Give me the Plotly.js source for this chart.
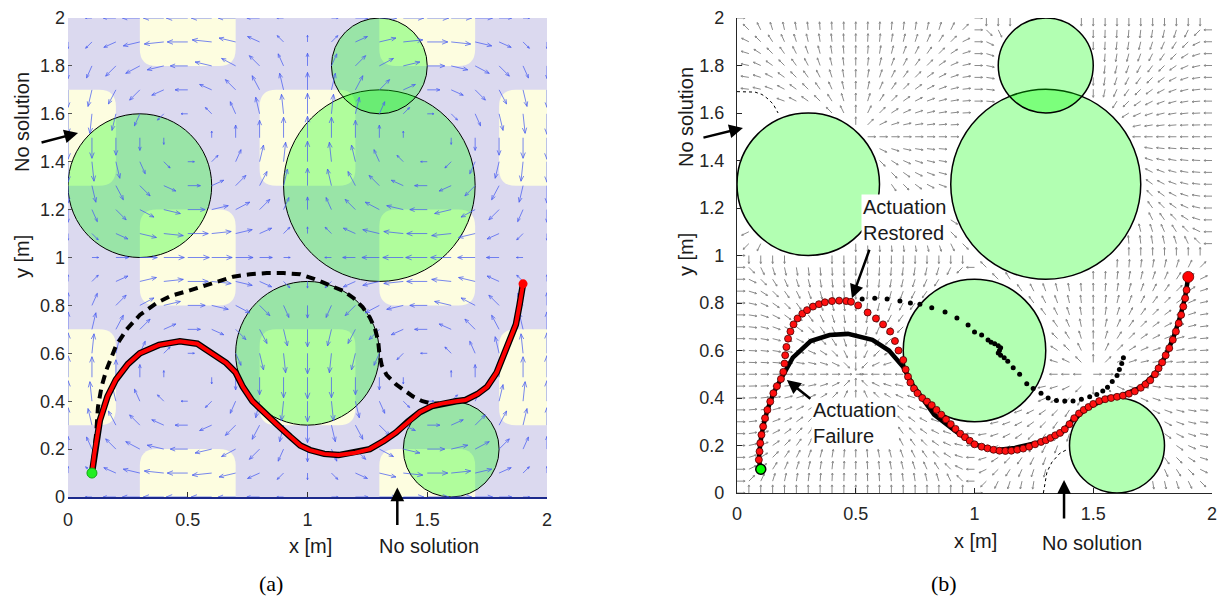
<!DOCTYPE html>
<html><head><meta charset="utf-8">
<script src="https://cdn.plot.ly/plotly-3.0.1.min.js"></script>
<style>html,body{margin:0;padding:0;background:#fff}#chart{width:1225px;height:602px}</style>
</head><body><div id="chart"></div>
<script>
// ---------- data ----------
const tickValsX = [0, 0.5, 1, 1.5, 2];
const tickTextX = ['0', '0.5', '1', '1.5', '2'];
const tickValsY = [0, 0.2, 0.4, 0.6, 0.8, 1, 1.2, 1.4, 1.6, 1.8, 2];
const tickTextY = ['0', '0.2', '0.4', '0.6', '0.8', '1', '1.2', '1.4', '1.6', '1.8', '2'];

// circular obstacles (same in both panels)
const obstacleX = [0.3, 1.3, 1.3, 1.0, 1.6];
const obstacleY = [1.3, 1.3, 1.8, 0.6, 0.2];
const obstacleR = [0.3, 0.4, 0.2, 0.3, 0.2];

// fast-flow (pale yellow) patch centres in panel (a)
const patchX = [0, 0, 1, 1, 2, 2, 0.5, 0.5, 0.5, 1.5, 1.5, 1.5];
const patchY = [0.5, 1.5, 0.5, 1.5, 0.5, 1.5, 0, 1, 2, 0, 1, 2];

// panel (a): planned trajectory (red, black edged)
const aPathX = [0.10,0.11,0.133,0.165,0.20,0.25,0.30,0.38,0.467,0.54,0.60,0.66,0.70,0.73,0.77,0.82,0.87,0.93,0.97,1.01,1.07,1.13,1.20,1.26,1.32,1.37,1.42,1.47,1.52,1.56,1.62,1.66,1.71,1.75,1.79,1.81,1.84,1.87,1.885,1.90];
const aPathY = [0.10,0.18,0.32,0.42,0.49,0.555,0.60,0.635,0.65,0.64,0.60,0.56,0.52,0.46,0.40,0.35,0.305,0.25,0.215,0.196,0.18,0.175,0.185,0.20,0.235,0.27,0.315,0.355,0.38,0.39,0.40,0.405,0.43,0.46,0.52,0.57,0.64,0.72,0.80,0.89];
// panel (a): dashed trajectory
const aDashX = [0.10,0.105,0.11,0.118,0.125,0.14,0.16,0.175,0.20,0.245,0.30,0.37,0.43,0.50,0.56,0.62,0.69,0.76,0.83,0.90,0.97,1.03,1.103,1.15,1.193,1.23,1.26,1.282,1.295,1.30,1.31,1.33,1.37,1.40,1.44,1.48,1.52,1.55];
const aDashY = [0.10,0.14,0.18,0.27,0.375,0.46,0.53,0.57,0.63,0.70,0.76,0.81,0.84,0.86,0.88,0.90,0.92,0.93,0.935,0.935,0.93,0.91,0.882,0.86,0.83,0.793,0.75,0.703,0.652,0.60,0.55,0.51,0.47,0.45,0.42,0.40,0.39,0.39];

// panel (b): nominal trajectory (solid black)
const bLineX = [0.10,0.092,0.098,0.11,0.128,0.153,0.185,0.235,0.31,0.39,0.467,0.57,0.64,0.70,0.74,0.78,0.83,0.92,1.0,1.086,1.17,1.28,1.37,1.42,1.48,1.56,1.62,1.70,1.76,1.80,1.836,1.865,1.886,1.90];
const bLineY = [0.10,0.14,0.21,0.28,0.35,0.42,0.48,0.57,0.64,0.665,0.67,0.645,0.60,0.53,0.455,0.40,0.33,0.26,0.205,0.18,0.19,0.215,0.257,0.315,0.36,0.40,0.41,0.445,0.50,0.57,0.65,0.74,0.82,0.91];
// panel (b): executed path with actuation failure (red dots)
const bDotX = [0.092,0.095,0.098,0.103,0.11,0.118,0.128,0.14,0.153,0.168,0.185,
  0.195,0.2,0.203,0.208,0.215,0.225,0.238,0.255,0.275,0.295,0.32,0.345,0.37,0.40,0.43,0.46,0.48,
  0.51,0.55,0.585,0.615,0.645,0.665,0.68,0.70,0.71,
  0.72,0.73,0.745,0.76,0.78,0.80,0.82,0.84,0.86,0.88,0.90,0.92,0.94,0.96,0.98,1.0,1.03,1.055,1.08,1.105,1.13,1.155,1.18,1.205,1.23,1.255,1.28,1.30,1.32,1.34,1.36,1.38,1.40,1.42,1.44,1.46,1.48,1.50,1.525,1.55,1.575,1.60,1.625,1.65,1.675,1.70,1.72,1.74,1.76,1.775,1.79,1.805,1.82,1.835,1.848,1.86,1.87,1.879,1.887,1.893];
const bDotY = [0.14,0.175,0.21,0.245,0.28,0.315,0.35,0.385,0.42,0.45,0.48,
  0.51,0.545,0.58,0.615,0.65,0.68,0.71,0.735,0.755,0.77,0.785,0.795,0.803,0.808,0.81,0.808,0.805,
  0.79,0.76,0.735,0.71,0.68,0.64,0.60,0.56,0.52,
  0.49,0.465,0.44,0.42,0.40,0.385,0.37,0.35,0.33,0.31,0.29,0.27,0.25,0.235,0.22,0.205,0.195,0.188,0.182,0.178,0.177,0.178,0.182,0.187,0.195,0.205,0.215,0.222,0.232,0.243,0.253,0.268,0.29,0.315,0.335,0.35,0.362,0.375,0.387,0.395,0.40,0.405,0.41,0.418,0.428,0.443,0.458,0.475,0.50,0.525,0.55,0.58,0.61,0.645,0.68,0.715,0.75,0.785,0.82,0.855];
// panel (b): path without restored actuation (small black dots)
const bFreeX = [0.527,0.58,0.632,0.686,0.73,0.77,0.82,0.876,0.926,0.973,1.0,1.03,1.057,1.07,1.085,1.10,1.11,1.105,1.10,1.11,1.125,1.14,1.163,1.19,1.22,1.247,1.28,1.31,1.345,1.38,1.415,1.45,1.485,1.515,1.54,1.56,1.58,1.60,1.61,1.62,1.627];
const bFreeY = [0.817,0.82,0.817,0.808,0.80,0.795,0.78,0.762,0.737,0.707,0.678,0.665,0.644,0.635,0.628,0.62,0.612,0.60,0.59,0.58,0.57,0.555,0.527,0.50,0.46,0.44,0.42,0.40,0.39,0.387,0.387,0.395,0.405,0.415,0.43,0.445,0.47,0.495,0.52,0.545,0.57];
// panel (b): "no solution" boundaries (dotted)
const arcTopX = [0, 0.04, 0.076, 0.105, 0.126, 0.152, 0.173];
const arcTopY = [1.69, 1.69, 1.688, 1.678, 1.663, 1.638, 1.60];
const arcBotX = [1.29, 1.30, 1.305, 1.326, 1.36, 1.394];
const arcBotY = [0, 0.05, 0.088, 0.13, 0.168, 0.185];

// flow model: counter-rotating gyres on unit cells
const gyreCellSize = 1.0;

// ---------- construction ----------
const PI = Math.PI;
function flowU(x, y) { return -Math.sin(PI * x / gyreCellSize) * Math.cos(PI * y / gyreCellSize); }
function flowV(x, y) { return Math.cos(PI * x / gyreCellSize) * Math.sin(PI * y / gyreCellSize); }

function addArrow(xs, ys, x0, y0, dx, dy, headFrac, headAng) {
  const L = Math.hypot(dx, dy);
  if (L < 1e-6) return;
  const x1 = x0 + dx, y1 = y0 + dy;
  const th = Math.atan2(dy, dx);
  const h = L * headFrac;
  xs.push(x0, x1, null); ys.push(y0, y1, null);
  xs.push(x1 - h * Math.cos(th + headAng), x1, x1 - h * Math.cos(th - headAng), null);
  ys.push(y1 - h * Math.sin(th + headAng), y1, y1 - h * Math.sin(th - headAng), null);
}

// panel (a) quiver
const qaX = [], qaY = [];
for (let i = 0; i <= 20; i++) for (let j = 0; j <= 20; j++) {
  const x = i * 0.1, y = j * 0.1;
  addArrow(qaX, qaY, x, y, 0.09 * flowU(x, y), 0.09 * flowV(x, y), 0.3, 0.38);
}

// panel (b) direction field, blanked in obstacles / no-solution zones
function blocked(x, y) {
  for (let k = 0; k < obstacleX.length; k++)
    if (Math.hypot(x - obstacleX[k], y - obstacleY[k]) < obstacleR[k] + 0.006) return true;
  if (Math.hypot(x - 0, y - 1.45) < 0.245) return true;
  if (Math.hypot(x - 1.5, y - 0) < 0.21) return true;
  return false;
}
const qbX = [], qbY = [];
for (let i = 0; i <= 40; i++) for (let j = 0; j <= 40; j++) {
  const x = i * 0.05, y = j * 0.05;
  let gx = Math.cos(PI * x) * Math.sin(PI * y), gy = Math.sin(PI * x) * Math.cos(PI * y);
  let m = Math.hypot(gx, gy);
  if (m < 1e-3) { gx = 1; gy = 0; m = 1; }
  const dx = 0.034 * gx / m, dy = 0.034 * gy / m;
  if (blocked(x, y) || blocked(x + dx, y + dy)) continue;
  addArrow(qbX, qbY, x, y, dx, dy, 0.25, 0.45);
}

const traces = [
  {x: qaX, y: qaY, xaxis: 'x', yaxis: 'y', mode: 'lines', line: {color: 'rgba(75,95,240,0.75)', width: 1}, hoverinfo: 'skip'},
  {x: aDashX, y: aDashY, xaxis: 'x', yaxis: 'y', mode: 'lines', line: {color: '#000', width: 4, dash: '9px,6px'}, hoverinfo: 'skip'},
  {x: aPathX, y: aPathY, xaxis: 'x', yaxis: 'y', mode: 'lines', line: {color: '#000', width: 6.5}, hoverinfo: 'skip'},
  {x: aPathX, y: aPathY, xaxis: 'x', yaxis: 'y', mode: 'lines', line: {color: '#ff0000', width: 4}, hoverinfo: 'skip'},
  {x: [aPathX[0]], y: [aPathY[0]], xaxis: 'x', yaxis: 'y', mode: 'markers', marker: {color: '#22ee22', size: 10, line: {color: '#11aa11', width: 1}}},
  {x: [aPathX[aPathX.length - 1]], y: [aPathY[aPathY.length - 1]], xaxis: 'x', yaxis: 'y', mode: 'markers', marker: {color: '#ff0000', size: 9}},

  {x: qbX, y: qbY, xaxis: 'x2', yaxis: 'y2', mode: 'lines', line: {color: '#8a8a8a', width: 1}, hoverinfo: 'skip'},
  {x: arcTopX, y: arcTopY, xaxis: 'x2', yaxis: 'y2', mode: 'lines', line: {color: '#000', width: 1, dash: 'dot'}},
  {x: arcBotX, y: arcBotY, xaxis: 'x2', yaxis: 'y2', mode: 'lines', line: {color: '#000', width: 1, dash: 'dot'}},
  {x: bLineX, y: bLineY, xaxis: 'x2', yaxis: 'y2', mode: 'lines', line: {color: '#000', width: 4.5}},
  {x: bFreeX, y: bFreeY, xaxis: 'x2', yaxis: 'y2', mode: 'markers', marker: {color: '#000', size: 5}},
  {x: bDotX, y: bDotY, xaxis: 'x2', yaxis: 'y2', mode: 'markers', marker: {color: '#ff1010', size: 7, line: {color: '#400', width: 0.8}}},
  {x: [bLineX[0]], y: [bLineY[0]], xaxis: 'x2', yaxis: 'y2', mode: 'markers', marker: {color: '#00ff00', size: 10, line: {color: '#000', width: 1.5}}},
  {x: [bLineX[bLineX.length - 1]], y: [bLineY[bLineY.length - 1]], xaxis: 'x2', yaxis: 'y2', mode: 'markers', marker: {color: '#ff0000', size: 11, line: {color: '#600', width: 0.8}}}
];

// shapes
function roundRect(x0, x1, y0, y1, r) {
  return `M${x0 + r},${y0} L${x1 - r},${y0} Q${x1},${y0} ${x1},${y0 + r} L${x1},${y1 - r} Q${x1},${y1} ${x1 - r},${y1} ` +
         `L${x0 + r},${y1} Q${x0},${y1} ${x0},${y1 - r} L${x0},${y0 + r} Q${x0},${y0} ${x0 + r},${y0} Z`;
}
const shapes = [];
shapes.push({type: 'rect', xref: 'x', yref: 'y', x0: 0, x1: 2, y0: 0, y1: 2, fillcolor: '#dbd9ef', line: {width: 0}, layer: 'below'});
for (let k = 0; k < patchX.length; k++) {
  shapes.push({type: 'path', xref: 'x', yref: 'y', path: roundRect(patchX[k] - 0.2, patchX[k] + 0.2, patchY[k] - 0.2, patchY[k] + 0.2, 0.07),
    fillcolor: '#fdfde0', line: {width: 0}, layer: 'below'});
}
for (let k = 0; k < obstacleX.length; k++) {
  ['', '2'].forEach(s => {
    shapes.push({type: 'circle', xref: 'x' + s, yref: 'y' + s,
      x0: obstacleX[k] - obstacleR[k], x1: obstacleX[k] + obstacleR[k],
      y0: obstacleY[k] - obstacleR[k], y1: obstacleY[k] + obstacleR[k],
      fillcolor: 'rgba(0,255,0,0.3)', line: {color: '#000', width: s ? 1.5 : 1}, layer: 'below'});
  });
}

const F = 'Liberation Sans, Arial, sans-serif';
const P = px => px / 1225, Q = py => 1 - py / 602;
const txt = (t, x, y, extra) => Object.assign({text: t, xref: 'paper', yref: 'paper', x: P(x), y: Q(y), showarrow: false,
  xanchor: 'center', yanchor: 'middle', font: {family: F, size: 20, color: '#1a1a1a'}}, extra || {});
const arr = (xr, yr, x, y, ax, ay) => ({text: '', xref: xr, yref: yr, x: x, y: y, ax: ax, ay: ay, showarrow: true,
  arrowhead: 2, arrowsize: 1.1, arrowwidth: 2.5, arrowcolor: '#000'});
const annotations = [
  txt('No solution', 22, 122, {textangle: -90}),
  txt('y [m]', 22, 257, {textangle: -90}),
  txt('x [m]', 310, 546),
  txt('No solution', 429, 546),
  txt('(a)', 271, 583, {font: {family: 'Liberation Serif, serif', size: 22, color: '#000'}}),
  txt('No solution', 686, 117, {textangle: -90}),
  txt('y [m]', 686, 255, {textangle: -90}),
  txt('x [m]', 975, 541),
  txt('No solution', 1092, 543),
  txt('(b)', 944, 583, {font: {family: 'Liberation Serif, serif', size: 22, color: '#000'}}),
  txt('Actuation<br>Restored', 861, 220, {xanchor: 'left', align: 'left', bgcolor: '#fff', borderpad: 1}),
  txt('Actuation<br>Failure', 811, 423, {xanchor: 'left', align: 'left', bgcolor: '#fff', borderpad: 1}),
  arr('x', 'y', 0.042, 1.52, -38, 10),
  arr('x', 'y', 1.375, 0.04, 0, 39),
  arr('x2', 'y2', 0.025, 1.537, -41, 10),
  arr('x2', 'y2', 0.484, 0.82, 18, -50),
  arr('x2', 'y2', 0.21, 0.476, 25, 20),
  arr('x2', 'y2', 1.377, 0.055, 0, 40)
];

const tf = {family: F, size: 18, color: '#262626'};
const common = {range: [0, 2], showgrid: false, zeroline: false, ticks: 'inside', ticklen: 5, fixedrange: true, tickfont: tf};
const layout = {
  width: 1225, height: 602, margin: {l: 0, r: 0, t: 0, b: 0},
  paper_bgcolor: '#fff', plot_bgcolor: 'rgba(0,0,0,0)', showlegend: false,
  xaxis: Object.assign({}, common, {domain: [P(68), P(547)], anchor: 'y', tickvals: tickValsX, ticktext: tickTextX,
    showline: true, linecolor: '#1c2a8c', linewidth: 1.5, tickcolor: '#333', ticklabelstandoff: 6}),
  yaxis: Object.assign({}, common, {domain: [Q(497), Q(18)], anchor: 'x', tickvals: tickValsY, ticktext: tickTextY,
    showline: false, tickcolor: '#555', ticklen: 4, ticklabelstandoff: 2}),
  xaxis2: Object.assign({}, common, {domain: [P(737), P(1212)], anchor: 'y2', tickvals: tickValsX, ticktext: tickTextX,
    showline: true, linecolor: '#262626', linewidth: 1.2, tickcolor: '#262626', ticklabelstandoff: 4}),
  yaxis2: Object.assign({}, common, {domain: [Q(493), Q(18)], anchor: 'x2', tickvals: tickValsY, ticktext: tickTextY,
    showline: true, linecolor: '#262626', linewidth: 1.2, tickcolor: '#262626', ticklabelstandoff: 8}),
  shapes: shapes, annotations: annotations
};
Plotly.newPlot('chart', traces, layout, {staticPlot: true, displayModeBar: false});
</script></body></html>
